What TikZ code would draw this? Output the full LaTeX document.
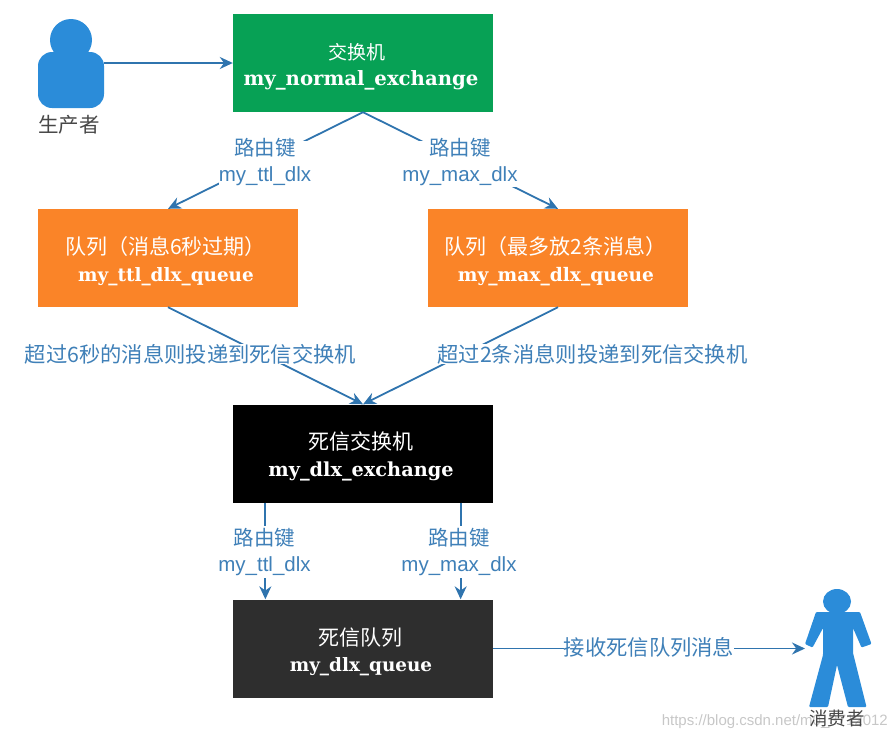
\documentclass[tikz,border=0pt]{standalone}
\usepackage{fontspec}
\setmainfont{Liberation Sans}
\newfontfamily\cjk{Noto Sans CJK SC}
\newfontfamily\slab{DejaVu Serif}
\usetikzlibrary{arrows.meta,calc,shapes.geometric}
\definecolor{figblue}{HTML}{2B8CD9}
\definecolor{linkblue}{HTML}{2F74AE}
\definecolor{labelblue}{HTML}{3F80B8}
\definecolor{boxgreen}{HTML}{07A155}
\definecolor{boxorange}{HTML}{FA8428}
\definecolor{boxdark}{HTML}{2E2E2E}
\tikzset{
  box/.style={draw=none,minimum width=260pt,minimum height=98pt,inner sep=0pt,text=white,align=center,font=\fontsize{21}{26.5}\selectfont},
  link/.style={draw=linkblue,line width=1.8pt,-{Stealth[length=13pt,width=12pt]}},
  edgelabel/.style={fill=white,text=labelblue,align=center,inner xsep=0pt,inner ysep=1pt,font=\fontsize{20.5}{26}\selectfont},
  figure/.style={fill=figblue,draw=none},
  figlabel/.style={text=black!72,inner sep=0pt,font=\cjk\fontsize{20.5}{24}\selectfont},
}
\newcommand{\qname}[2]{{\slab\bfseries\fontsize{#1}{26}\selectfont #2\kern4pt}}
\newcommand{\ctitle}[1]{{\cjk\rule{0pt}{24pt}#1\kern5pt}}
\newcommand{\keytop}{\raisebox{0pt}[13pt][0pt]{\cjk 路由键}}
\begin{document}
\begin{tikzpicture}[x=1pt,y=-1pt]
\useasboundingbox (0,0) rectangle (896,742);
% boxes
\node[box,fill=boxgreen] (green) at (363,63) {{\cjk\fontsize{19}{26.5}\selectfont\rule{0pt}{24pt}交换机\kern12pt}\\\qname{19.7}{my\_normal\_exchange}};
\node[box,fill=boxorange] (ttl) at (168,258) {\ctitle{队列（消息6秒过期）}\\\qname{18.4}{my\_ttl\_dlx\_queue}};
\node[box,fill=boxorange] (max) at (558,258) {\ctitle{队列（最多放2条消息）}\\\qname{18.6}{my\_max\_dlx\_queue}};
\node[box,fill=black] (dlx) at (363,453.5) {\ctitle{死信交换机}\\\qname{19.3}{my\_dlx\_exchange}};
\node[box,fill=boxdark] (dq) at (363,648.5) {\ctitle{死信队列}\\\qname{18.4}{my\_dlx\_queue}};
% producer
\node[figure,circle,minimum size=42pt,inner sep=0pt] (phead) at (71,40) {};
\node[figure,rounded corners=14pt,minimum width=66pt,minimum height=56pt,inner sep=0pt] (pbody) at (71,80) {};
\node[figlabel] (plabel) at (69,125) {生产者};
% consumer
\node[figure,ellipse,minimum width=28pt,minimum height=25pt,inner sep=0pt] (chead) at (837,601.5) {};
\fill[figblue,rounded corners=1pt] (816,612) -- (860,612) -- (871.5,644) -- (861.5,647.5) -- (853,628) -- (853,653) -- (866.5,707) -- (848,707) -- (837,665) -- (828,707) -- (809,707) -- (823,655) -- (823,628) -- (812.5,647.5) -- (805,644) -- cycle;
\coordinate (cin) at (805,648.5);
% watermark
\node[text=black!22,inner sep=0pt,anchor=east,font=\fontsize{15}{16}\selectfont] (wm) at (888,722) {https://blog.csdn.net/m0\_3712012};
\node[figlabel,font=\cjk\fontsize{18.5}{22}\selectfont] (clabel) at (837,718.5) {消费者};
% connectors
\draw[link] (pbody.east |- green.west) -- (green.west);
\draw[link] (green.south) -- (ttl.north);
\draw[link] (green.south) -- (max.north);
\draw[link] (ttl.south) -- (dlx.north);
\draw[link] (max.south) -- (dlx.north);
\draw[link] ($(dlx.south west)!.125!(dlx.south east)$) -- ($(dq.north west)!.125!(dq.north east)$);
\draw[link] ($(dlx.south west)!.875!(dlx.south east)$) -- ($(dq.north west)!.875!(dq.north east)$);
\draw[link] (dq.east) -- (cin);
% edge labels
\node[edgelabel] (l1) at (265,164) {\keytop\\my\_ttl\_dlx};
\node[edgelabel] (l2) at (460,164) {\keytop\\my\_max\_dlx};
\node[edgelabel,inner ysep=0pt,font=\cjk\fontsize{21.3}{26}\selectfont] (l3) at (190.5,354) {超过6秒的消息则投递到死信交换机};
\node[edgelabel,inner ysep=0pt,font=\cjk\fontsize{21.3}{26}\selectfont] (l4) at (592.5,354) {超过2条消息则投递到死信交换机};
\node[edgelabel,inner ysep=2pt] (l5) at (264.5,552) {{\cjk 路由键}\\my\_ttl\_dlx};
\node[edgelabel,inner ysep=2pt] (l6) at (459,552) {{\cjk 路由键}\\my\_max\_dlx};
\node[edgelabel,font=\cjk\fontsize{21.3}{26}\selectfont] (l7) at (649,647) {接收死信队列消息};
\end{tikzpicture}
\end{document}
